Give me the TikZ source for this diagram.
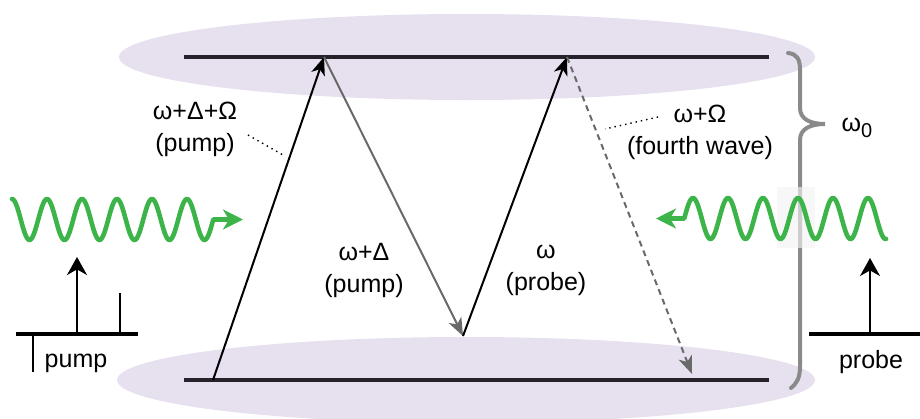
\documentclass[tikz,border=0pt]{standalone}
\usepackage{fontspec}
\setmainfont{Liberation Sans}
\usetikzlibrary{arrows.meta}
\definecolor{lav}{RGB}{231,225,239}
\definecolor{lvl}{RGB}{38,33,43}
\definecolor{grn}{RGB}{61,180,74}
\definecolor{brc}{RGB}{138,138,138}
\definecolor{garr}{RGB}{105,105,105}
\begin{document}
\begin{tikzpicture}[x=0.5pt,y=-0.5pt,
  lbl/.style={font=\fontsize{12.5}{16}\selectfont, align=center, inner sep=0pt},
  level/.style={draw=lvl, line width=1.7pt},
  trans/.style={line width=1pt, -{Stealth[length=9pt,width=7pt,inset=2.5pt]}},
  specarrow/.style={line width=1pt, -{Stealth[length=9pt,width=10pt,inset=2.8pt]}},
  leader/.style={dotted, line width=0.7pt},
  wave/.style={draw=grn, line width=2.3pt, line cap=round, line join=round},
  greenhead/.style={-{Stealth[length=10pt,width=10pt,inset=3pt]}}
]
\useasboundingbox (0,0) rectangle (920,418);

% ellipses
\fill[lav] (467,57) ellipse [x radius=348, y radius=43];
\fill[lav] (466,380) ellipse [x radius=349, y radius=43];

% levels
\coordinate (tl) at (184,57);
\coordinate (tr) at (769,57);
\coordinate (bl) at (184,380);
\coordinate (br) at (769,380);
\draw[level] (tl) -- (tr);
\draw[level] (bl) -- (br);

% transition points
\coordinate (p0) at (213,380);
\coordinate (p1) at (324,57);
\coordinate (p2) at (463,336);
\coordinate (p3) at (567,57);
\coordinate (p4) at (692,374);

\draw[trans, black] (p0) -- (p1);
\draw[trans, garr] (p1) -- (p2);
\draw[trans, black] (p2) -- (p3);
\draw[trans, garr, dash pattern=on 3pt off 2.2pt] (p3) -- (p4);

% labels
\node[lbl] (l1) at (195,129) {ω+Δ+Ω\\(pump)};
\node[lbl] (l2) at (364,270) {ω+Δ\\(pump)};
\node[lbl] (l3) at (546,270) {ω\\(probe)};
\node[lbl] (l4) at (700,132) {ω+Ω\\(fourth wave)};
\node[lbl] (l5) at (857,128) {ω\raisebox{-0.45ex}{\fontsize{10}{12}\selectfont 0}};

\coordinate (d1a) at (248,135);
\coordinate (d1b) at (283,155);
\coordinate (d2a) at (658,117);
\coordinate (d2b) at (605,129);
\draw[leader] (d1a) -- (d1b);
\draw[leader] (d2a) -- (d2b);

% brace
\draw[brc, line width=2pt, line cap=round]
  (788,53) .. controls (797,54) and (800,59) .. (800,70) -- (800,108)
  .. controls (800,119) and (810,124) .. (825,124)
  .. controls (810,124) and (800,129) .. (800,140) -- (800,366)
  .. controls (800,378) and (797,383) .. (791,388);
\fill[gray!10, fill opacity=0.65] (777,187) rectangle (815,248);

% waves
\coordinate (ltip) at (243,219.5);
\coordinate (rtip) at (656,218.5);
\draw[wave, greenhead]
  plot[domain=12:213.25, samples=220, smooth] (\x,{219.5-20.5*cos(10.285714*(\x-12))}) -- (ltip);
\draw[wave, greenhead]
  plot[domain=886:684.25, samples=220, smooth] (\x,{218.5-20.5*cos(10.285714*(\x-693))}) -- (rtip);

% left spectrum
\coordinate (ls1) at (16,334);
\coordinate (ls2) at (138,334);
\coordinate (la0) at (77,334);
\coordinate (la1) at (77,257);
\coordinate (lb0) at (120,334);
\coordinate (lb1) at (120,293);
\coordinate (lc0) at (33,334);
\coordinate (lc1) at (33,372);
\draw[line width=1.8pt] (ls1) -- (ls2);
\draw[specarrow] (la0) -- (la1);
\draw[line width=1pt] (lb0) -- (lb1);
\draw[line width=1pt] (lc0) -- (lc1);
\node[lbl] (pumplbl) at (76,363) {pump};

% right spectrum
\coordinate (rs1) at (809,334);
\coordinate (rs2) at (920,334);
\coordinate (ra0) at (870,334);
\coordinate (ra1) at (870,258);
\draw[line width=1.8pt] (rs1) -- (rs2);
\draw[specarrow] (ra0) -- (ra1);
\node[lbl] (probelbl) at (871,362) {probe};
\end{tikzpicture}
\end{document}
